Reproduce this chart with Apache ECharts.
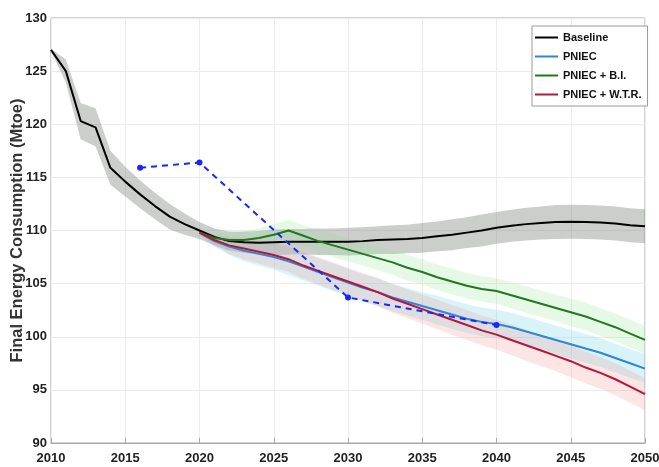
<!DOCTYPE html>
<html><head><meta charset="utf-8">
<script src="https://cdn.jsdelivr.net/npm/echarts@6/dist/echarts.min.js"></script>
<style>html,body{margin:0;padding:0;background:#fff}#c{width:659px;height:467px}</style>
</head><body><div id="c"></div>
<script>
const years = [2010,2011,2012,2013,2014,2015,2016,2017,2018,2019,2020,2021,2022,2023,2024,2025,2026,2027,2028,2029,2030,2031,2032,2033,2034,2035,2036,2037,2038,2039,2040,2041,2042,2043,2044,2045,2046,2047,2048,2049,2050];
const baseline = [127.0,125.0,120.3,119.7,115.9,114.6,113.4,112.3,111.3,110.6,110.0,109.4,109.0,108.9,108.85,108.9,108.95,108.95,108.95,108.95,108.95,109.0,109.1,109.15,109.2,109.3,109.45,109.6,109.8,110.0,110.25,110.45,110.6,110.7,110.8,110.83,110.8,110.75,110.65,110.5,110.4];
const baselineSpread = [0.1,1.1,1.7,1.8,1.6,1.4,1.3,1.25,1.2,1.0,0.8,0.8,0.9,1.0,1.1,1.2,1.2,1.2,1.25,1.25,1.3,1.3,1.3,1.35,1.35,1.4,1.4,1.45,1.45,1.5,1.5,1.5,1.55,1.55,1.6,1.6,1.6,1.6,1.6,1.6,1.6];

const scenarioStart = 2020;
const pniec = [109.8,109.0,108.5,108.1,107.8,107.5,107.1,106.6,106.1,105.6,105.1,104.6,104.2,103.7,103.3,102.9,102.5,102.1,101.7,101.4,101.2,100.9,100.5,100.1,99.7,99.3,98.9,98.5,98.0,97.5,97.0];
const pniecBI = [109.8,109.3,109.1,109.1,109.3,109.6,110.0,109.5,109.0,108.6,108.2,107.8,107.4,107.0,106.5,106.1,105.6,105.2,104.8,104.5,104.3,103.9,103.5,103.1,102.7,102.3,101.9,101.4,100.9,100.3,99.7];
const pniecWTR = [109.8,109.1,108.6,108.3,108.0,107.7,107.3,106.7,106.2,105.7,105.2,104.7,104.2,103.6,103.1,102.6,102.1,101.6,101.1,100.6,100.2,99.7,99.2,98.7,98.2,97.7,97.1,96.6,96.0,95.3,94.6];
const pniecSpread = [0.2,0.5,0.8,1.0,1.1,1.2,1.3,1.3,1.3,1.3,1.3,1.3,1.3,1.3,1.3,1.3,1.35,1.35,1.35,1.35,1.35,1.35,1.35,1.35,1.35,1.35,1.35,1.35,1.35,1.35,1.35];
const biSpread = [0.2,0.5,0.7,0.8,0.9,1.0,1.0,1.0,1.05,1.1,1.1,1.1,1.15,1.15,1.2,1.2,1.2,1.2,1.2,1.2,1.2,1.25,1.25,1.25,1.25,1.3,1.3,1.3,1.3,1.3,1.3];
const wtrSpread = [0.2,0.5,0.8,1.0,1.1,1.2,1.2,1.25,1.25,1.3,1.3,1.3,1.3,1.35,1.35,1.35,1.4,1.4,1.4,1.4,1.4,1.45,1.45,1.45,1.45,1.5,1.5,1.5,1.5,1.5,1.5];

const targetYears = [2016,2020,2030,2040];
const targetValues = [115.9,116.4,103.7,101.1];

const yTicks = [90,95,100,105,110,115,120,125,130];

const cats = years.map(String);
const pad = years.indexOf(scenarioStart);
function full(arr, start){ const o = []; for(let i=0;i<start;i++) o.push('-'); return o.concat(arr); }
function band(name, ys, sp, start, color){
  return [
    {name: name+'_lo', type:'line', stack:name, data: full(ys.map((y,i)=>+(y-sp[i]).toFixed(3)), start), symbol:'none', lineStyle:{opacity:0}, silent:true, z:1},
    {name: name+'_w', type:'line', stack:name, data: full(sp.map(s=>+(2*s).toFixed(3)), start), symbol:'none', lineStyle:{opacity:0}, areaStyle:{color: color, opacity:1}, silent:true, z:1}
  ];
}
function line(name, ys, start, color){
  return {name, type:'line', data: full(ys, start), symbol:'none', lineStyle:{color, width:2}, itemStyle:{color}, z:3};
}

const labelFont = {fontFamily:'"Liberation Sans",Arial,sans-serif', fontWeight:'bold', fontSize:13, color:'#222'};
const chart = echarts.init(document.getElementById('c'));
chart.setOption({
  animation:false,
  backgroundColor:'#fff',
  grid:{left:51, right:14, top:18, bottom:24, outerBoundsMode:'none', containLabel:false, show:true, borderColor:'#a8a8a8', borderWidth:1},
  xAxis:{type:'category', data:cats, boundaryGap:false,
    axisLine:{lineStyle:{color:'#a8a8a8'}}, axisTick:{inside:true, length:5, interval:4, lineStyle:{color:'#a8a8a8'}},
    splitLine:{show:true, interval:4, lineStyle:{color:'#ececec'}},
    axisLabel:Object.assign({margin:9, interval:4}, labelFont)},
  yAxis:{type:'value', min:yTicks[0], max:yTicks[yTicks.length-1], interval:5,
    name:'Final Energy Consumption (Mtoe)', nameLocation:'middle', nameGap:25, nameMoveOverlap:false,
    nameTextStyle:{fontFamily:'"Liberation Sans",Arial,sans-serif', fontWeight:'bold', fontSize:16.5, color:'#333'},
    axisLine:{lineStyle:{color:'#a8a8a8'}}, axisTick:{inside:true, length:5, lineStyle:{color:'#a8a8a8'}},
    splitLine:{show:true, lineStyle:{color:'#ececec'}},
    axisLabel:Object.assign({margin:4}, labelFont)},
  legend:{data:['Baseline','PNIEC','PNIEC + B.I.','PNIEC + W.T.R.'], orient:'vertical', left:532, top:26,
    icon:'rect', itemWidth:23, itemHeight:2, itemGap:6, padding:[5,6,5,3],
    borderColor:'#999', borderWidth:1, backgroundColor:'#fff',
    textStyle:{fontFamily:'"Liberation Sans",Arial,sans-serif', fontWeight:'bold', fontSize:11, color:'#111', lineHeight:13}},
  series:[
    ...band('bBase', baseline, baselineSpread, 0, 'rgba(120,125,120,0.38)'),
    ...band('bBI', pniecBI, biSpread, pad, 'rgba(150,225,150,0.24)'),
    ...band('bP', pniec, pniecSpread, pad, 'rgba(120,215,235,0.28)'),
    ...band('bW', pniecWTR, wtrSpread, pad, 'rgba(240,150,150,0.25)'),
    line('Baseline', baseline, 0, '#000000'),
    line('PNIEC + B.I.', pniecBI, pad, '#1d7a1d'),
    line('PNIEC', pniec, pad, '#2f86d6'),
    line('PNIEC + W.T.R.', pniecWTR, pad, '#b5173c'),
    {name:'Target', type:'line', data:targetYears.map((y,i)=>[String(y), targetValues[i]]), symbol:'circle', symbolSize:6,
     lineStyle:{color:'#1428ff', width:2, type:[6,5]}, itemStyle:{color:'#1428ff'}, z:4}
  ]
});
</script></body></html>
